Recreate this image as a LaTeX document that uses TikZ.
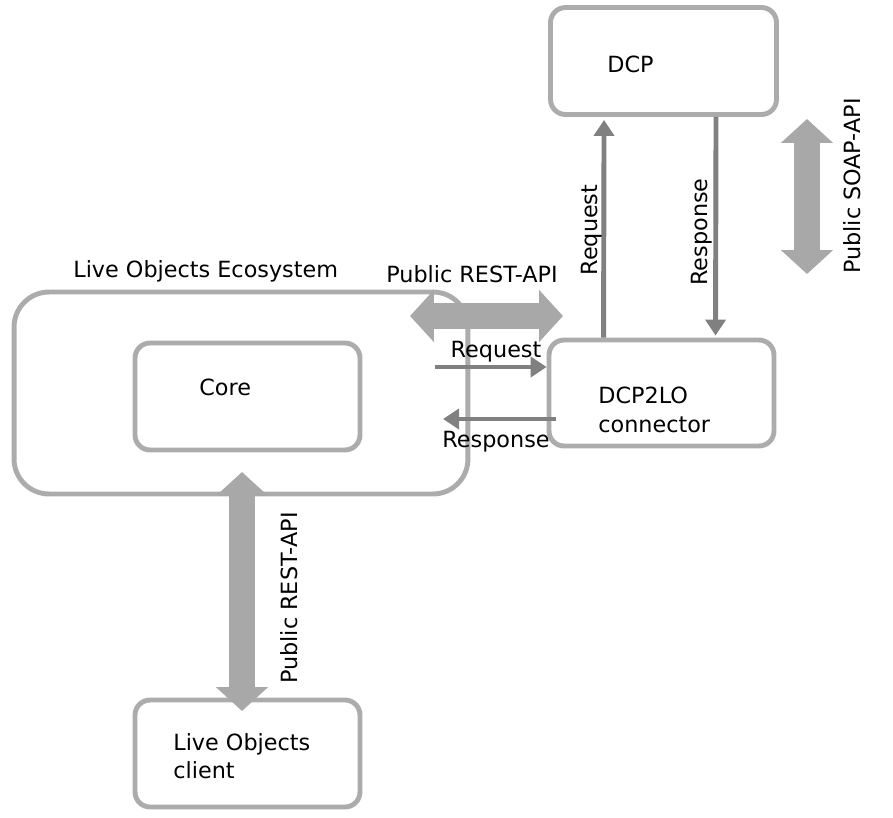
\documentclass[tikz,border=0pt]{standalone}
\usepackage{fontspec}
\setmainfont{DejaVu Sans}
\usetikzlibrary{arrows.meta}

\tikzset{
  box/.style={draw=gray!65, line width=2.8pt, rounded corners=0.3cm, inner sep=0pt},
  fat/.style={draw=gray!68, line width=0.52cm,
    {Triangle[length=0.48cm,width=1.02cm]}-{Triangle[length=0.48cm,width=1.02cm]}},
  msg/.style={draw=gray, line width=2.8pt, -{Triangle[length=0.32cm,width=0.4cm]}},
  lbl/.style={inner sep=0pt, align=left, font=\fontsize{12.7}{16}\selectfont},
}

\begin{document}
\begin{tikzpicture}[x=0.02cm, y=-0.02cm]
  \useasboundingbox (0,0) rectangle (893,818);

  \node[box, minimum width=4.52cm, minimum height=2.14cm] (dcp) at (663.5,61) {};
  \node[box, rounded corners=0.7cm, minimum width=9.08cm, minimum height=4.04cm] (eco) at (241,393) {};
  \node[box, minimum width=4.5cm, minimum height=2.14cm] (core) at (247.5,396.5) {};
  \node[box, minimum width=4.5cm, minimum height=2.12cm] (conn) at (661.5,393) {};
  \node[box, minimum width=4.5cm, minimum height=2.14cm] (client) at (247.5,753.5) {};

  \node[lbl, anchor=base west] (dcplbl) at (607,72) {DCP};
  \node[lbl, anchor=base west] (corelbl) at (199,395) {Core};
  \node[lbl, anchor=north west] (connlbl) at (598,387) {DCP2LO\\connector};
  \node[lbl, anchor=north west] (clientlbl) at (173,733) {Live Objects\\client};
  \node[lbl, anchor=base west] (ecolbl) at (73,277) {Live Objects Ecosystem};

  \coordinate (restL) at (410,316);
  \coordinate (restR) at (563,316);
  \coordinate (apiT) at (242,472);
  \coordinate (apiB) at (242,711);
  \coordinate (soapT) at (807,119);
  \coordinate (soapB) at (807,274);

  \draw[fat] (restL) -- (restR);
  \draw[fat] (apiT) -- (apiB);
  \draw[fat] (soapT) -- (soapB);

  \node[lbl, anchor=base] (restlbl) at (472,282) {Public REST-API};
  \node[lbl, anchor=base, rotate=90] (apilbl) at (297,598) {Public REST-API};
  \node[lbl, anchor=base, rotate=90] (soaplbl) at (860,186) {Public SOAP-API};

  \draw[msg] ([xshift=1.14cm]conn.north west) -- ([xshift=1.12cm, yshift=-0.06cm]dcp.south west);
  \draw[msg] ([xshift=3.36cm]dcp.south west) -- ([xshift=3.38cm, yshift=0.04cm]conn.north west);

  \coordinate (rq) at (435,367);
  \coordinate (rs) at (443,419);
  \draw[msg] (rq) -- (rq -| conn.west);
  \draw[msg] ([xshift=0.18cm]rs -| conn.west) -- (rs);

  \node[lbl, anchor=base, rotate=90] (reqlbl) at (597,230) {Request};
  \node[lbl, anchor=base, rotate=90] (resplbl) at (707,232) {Response};
  \node[lbl, anchor=base] (rqlbl) at (496,357) {Request};
  \node[lbl, anchor=base] (rslbl) at (496,447) {Response};
\end{tikzpicture}
\end{document}
